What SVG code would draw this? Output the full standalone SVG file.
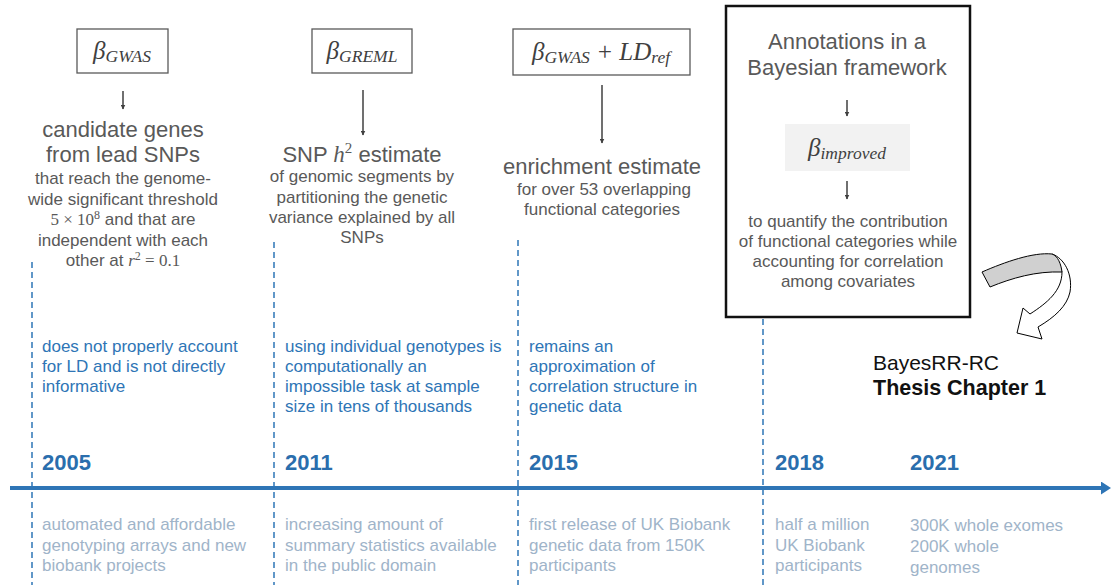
<svg xmlns="http://www.w3.org/2000/svg" width="1113" height="585" viewBox="0 0 1113 585">
  <defs>
    <marker id="tip" viewBox="0 0 10 10" refX="9" refY="5" markerWidth="5" markerHeight="5" markerUnits="userSpaceOnUse" orient="auto">
      <path d="M0,0 L10,5 L0,10 Z" fill="#404040"/>
    </marker>
    <marker id="tip-axis" viewBox="0 0 10 10" refX="2" refY="5" markerWidth="10" markerHeight="13" markerUnits="userSpaceOnUse" orient="auto" preserveAspectRatio="none">
      <path d="M0,0 L10,5 L0,10 Z" fill="#2e75b6"/>
    </marker>
    <style>
      .sans { font-family: "Liberation Sans", Arial, sans-serif; }
      .math { font-family: "Liberation Serif", "DejaVu Serif", serif; font-style: italic; }
      .mathup { font-family: "Liberation Serif", "DejaVu Serif", serif; }
      .big { font-size: 22px; fill: #595959; text-anchor: middle; }
      .small { font-size: 17px; fill: #595959; text-anchor: middle; }
      .blue { font-size: 17px; fill: #2e75b6; }
      .light { font-size: 17px; fill: #9fb4c9; }
      .year { font-size: 22px; font-weight: bold; fill: #2a6ead; }
      .box { fill: #ffffff; stroke: #595959; stroke-width: 1.3; }
      .down { stroke: #404040; stroke-width: 1.5; fill: none; marker-end: url(#tip); }
      .guide { stroke: #2e75b6; stroke-width: 1.5; stroke-dasharray: 6 4; fill: none; }
    </style>
  </defs>

  <!-- 2005: GWAS -->
  <g id="gwas">
    <rect class="box" x="77" y="29" width="91" height="44"/>
    <text x="122" y="59" text-anchor="middle" class="math" font-size="25" fill="#404040">β<tspan font-size="17.5" dy="3">GWAS</tspan></text>
    <text class="sans big" x="123" y="137">candidate genes</text>
    <text class="sans big" x="123" y="162">from lead SNPs</text>
    <text class="sans small" x="123" y="184">that reach the genome-</text>
    <text class="sans small" x="123" y="204.5">wide significant threshold</text>
    <text class="sans small" x="123" y="225"><tspan class="mathup">5 × 10</tspan><tspan class="mathup" font-size="12" dy="-6">8</tspan><tspan dy="6"> and that are</tspan></text>
    <text class="sans small" x="123" y="245.5">independent  with each</text>
    <text class="sans small" x="123" y="266">other at <tspan class="math">r</tspan><tspan class="mathup" font-size="12" dy="-6">2</tspan><tspan class="mathup" dy="6"> = 0.1</tspan></text>
  </g>

  <!-- 2011: GREML -->
  <g id="greml">
    <rect class="box" x="312" y="29" width="100" height="44"/>
    <text x="362" y="59" text-anchor="middle" class="math" font-size="25" fill="#404040">β<tspan font-size="17.5" dy="3">GREML</tspan></text>
    <text class="sans big" x="362" y="162">SNP <tspan class="math" font-size="23">h</tspan><tspan class="mathup" font-size="15" dy="-9">2</tspan><tspan dy="9"> estimate</tspan></text>
    <text class="sans small" x="362" y="182">of genomic  segments by</text>
    <text class="sans small" x="362" y="203">partitioning  the genetic</text>
    <text class="sans small" x="362" y="223">variance explained by all</text>
    <text class="sans small" x="362" y="243">SNPs</text>
  </g>

  <!-- 2015: LD score -->
  <g id="ldsc">
    <rect class="box" x="513" y="29" width="177" height="46"/>
    <text x="601" y="60" text-anchor="middle" class="math" font-size="25" fill="#404040">β<tspan font-size="17.5" dy="3">GWAS</tspan><tspan class="mathup" dy="-3"> + </tspan><tspan>LD</tspan><tspan font-size="17.5" dy="3">ref</tspan></text>
    <text class="sans big" x="602" y="174">enrichment estimate</text>
    <text class="sans small" x="604" y="195">for over 53 overlapping</text>
    <text class="sans small" x="602" y="215">functional categories</text>
  </g>

  <!-- 2018: Bayesian framework -->
  <g id="bayes">
    <rect x="726" y="6" width="244" height="311" fill="none" stroke="#111111" stroke-width="2.5"/>
    <text class="sans big" x="847" y="49">Annotations in a</text>
    <text class="sans big" x="847" y="75">Bayesian framework</text>
    <rect x="785" y="124" width="125" height="47" fill="#f2f2f2"/>
    <text x="847" y="156" text-anchor="middle" class="math" font-size="25" fill="#404040">β<tspan font-size="17.5" dy="3">improved</tspan></text>
    <text class="sans small" x="848" y="227">to quantify  the contribution</text>
    <text class="sans small" x="848" y="247">of functional categories while</text>
    <text class="sans small" x="848" y="267">accounting for correlation</text>
    <text class="sans small" x="848" y="287">among  covariates</text>
  </g>

  <!-- timeline axis, year guides and down arrows -->
  <g id="connectors">
    <line class="guide" x1="32" y1="262" x2="32" y2="585"/>
    <line class="guide" x1="274" y1="242" x2="274" y2="585"/>
    <line class="guide" x1="518" y1="240" x2="518" y2="585"/>
    <line class="guide" x1="763" y1="319" x2="763" y2="585"/>
    <line x1="10" y1="488" x2="1103" y2="488" stroke="#2e75b6" stroke-width="4" marker-end="url(#tip-axis)"/>
    <line class="down" x1="123" y1="91" x2="123" y2="109"/>
    <line class="down" x1="363" y1="90" x2="363" y2="135"/>
    <line class="down" x1="602" y1="85" x2="602" y2="143"/>
    <line class="down" x1="847" y1="100" x2="847" y2="116"/>
    <line class="down" x1="847" y1="181" x2="847" y2="199"/>
  </g>

  <!-- curved ribbon arrow -->
  <g id="ribbon" stroke="#000000" stroke-width="1" stroke-linejoin="round">
    <path d="M1052,254 C1064,258 1073,274 1070,292 C1067,306 1055,317 1038,327 L1042,339 L1017,333 L1023,308 L1030,314 C1047,303 1062,291 1062,272 Z" fill="#ffffff"/>
    <path d="M982,272 C1005,262 1033,252 1052,254 C1058,256 1061,264 1062,272 C1036,271 1012,278 990,287 Z" fill="#d0d0d0"/>
  </g>

  <!-- thesis label -->
  <g id="thesis">
    <text class="sans" x="873" y="370" font-size="21" fill="#111111">BayesRR-RC</text>
    <text class="sans" x="873" y="395" font-size="21.5" font-weight="bold" fill="#111111">Thesis Chapter 1</text>
  </g>

  <!-- limitations -->
  <g id="limits">
    <text class="sans blue" x="42" y="352">does not properly account</text>
    <text class="sans blue" x="42" y="372">for LD and is not directly</text>
    <text class="sans blue" x="42" y="392">informative</text>
    <text class="sans blue" x="285" y="352">using individual  genotypes is</text>
    <text class="sans blue" x="285" y="372">computationally  an</text>
    <text class="sans blue" x="285" y="392">impossible task at sample</text>
    <text class="sans blue" x="285" y="412">size in tens of thousands</text>
    <text class="sans blue" x="529" y="352">remains an</text>
    <text class="sans blue" x="529" y="372">approximation of</text>
    <text class="sans blue" x="529" y="392">correlation structure in</text>
    <text class="sans blue" x="529" y="412">genetic data</text>
  </g>

  <!-- years -->
  <g id="years">
    <text class="sans year" x="42" y="470">2005</text>
    <text class="sans year" x="285" y="470">2011</text>
    <text class="sans year" x="529" y="470">2015</text>
    <text class="sans year" x="775" y="470">2018</text>
    <text class="sans year" x="910" y="470">2021</text>
  </g>

  <!-- data availability -->
  <g id="data">
    <text class="sans light" x="42" y="530">automated and affordable</text>
    <text class="sans light" x="42" y="551">genotyping  arrays and new</text>
    <text class="sans light" x="42" y="571">biobank  projects</text>
    <text class="sans light" x="285" y="530">increasing amount of</text>
    <text class="sans light" x="285" y="551">summary statistics available</text>
    <text class="sans light" x="285" y="571">in the public domain</text>
    <text class="sans light" x="529" y="530">first release of UK Biobank</text>
    <text class="sans light" x="529" y="551">genetic data from 150K</text>
    <text class="sans light" x="529" y="571">participants</text>
    <text class="sans light" x="775" y="530">half a million</text>
    <text class="sans light" x="775" y="551">UK Biobank</text>
    <text class="sans light" x="775" y="571">participants</text>
    <text class="sans light" x="910" y="531">300K whole exomes</text>
    <text class="sans light" x="910" y="552">200K whole</text>
    <text class="sans light" x="910" y="573">genomes</text>
  </g>
</svg>
